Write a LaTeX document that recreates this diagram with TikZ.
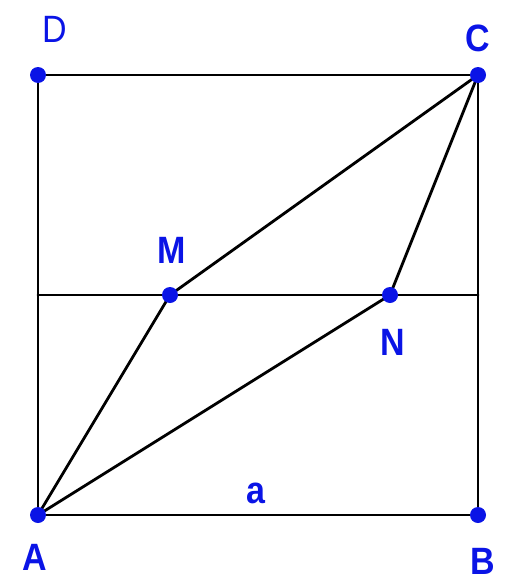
\documentclass[tikz,border=0pt]{standalone}
\usepackage{fontspec}
\setmainfont{Liberation Sans}
\definecolor{ptblue}{RGB}{10,20,230}
\begin{document}
\begin{tikzpicture}[x=1pt,y=-1pt,
  seg/.style={line width=2.8pt,line cap=round},
  pt/.style={circle,fill=ptblue,inner sep=0pt,minimum size=16pt},
  lbl/.style={text=ptblue,font=\fontsize{34}{34}\selectfont\bfseries,inner sep=0pt,yscale=1.12},
  lbln/.style={text=ptblue,font=\fontsize{34}{34}\selectfont,inner sep=0pt,yscale=1.12}]
\useasboundingbox (0,0) rectangle (515,581);
\coordinate (A) at (38,515);
\coordinate (B) at (478,515);
\coordinate (C) at (478,75);
\coordinate (D) at (38,75);
\coordinate (L) at (38,295);
\coordinate (R) at (478,295);
\coordinate (M) at (170,295);
\coordinate (N) at (390,295);
\draw[seg] (A) -- (B) -- (C) -- (D) -- cycle;
\draw[seg] (L) -- (R);
\draw[seg] (A) -- (M) -- (C) -- (N) -- cycle;
\foreach \p in {A,B,C,D,M,N} \node[pt] (p\p) at (\p) {};
\node[lbln] (lD) at (55,29) {D};
\node[lbl] (lC) at (478,38) {C};
\node[lbl] (lM) at (172,250) {M};
\node[lbl] (lN) at (393,342) {N};
\node[lbl] (la) at (256,493) {a};
\node[lbl] (lA) at (35,557) {A};
\node[lbl] (lB) at (483,561) {B};
\end{tikzpicture}
\end{document}
